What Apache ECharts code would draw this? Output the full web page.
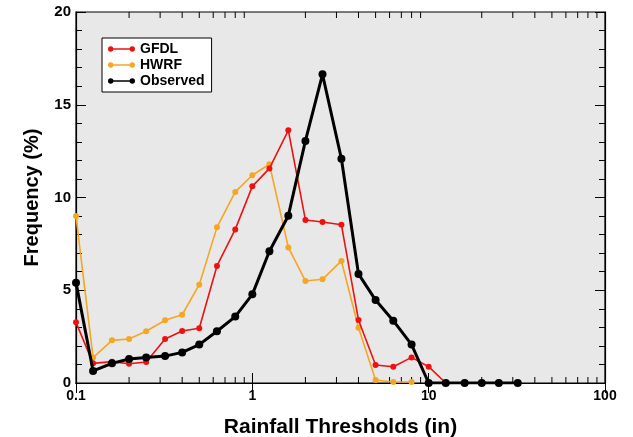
<!DOCTYPE html>
<html>
<head>
<meta charset="utf-8">
<script src="https://cdn.jsdelivr.net/npm/echarts@6/dist/echarts.min.js"></script>
<style>html,body{margin:0;padding:0;background:#fff;}#chart{width:633px;height:437px;}</style>
</head>
<body>
<div id="chart"></div>
<script>
const thresholds = [0.1,0.125,0.16,0.2,0.25,0.32,0.4,0.5,0.63,0.8,1,1.25,1.6,2,2.5,3.2,4,5,6.3,8,10,12.5,16,20,25,32];
const gfdl = [3.27,1.06,1.15,1.04,1.13,2.37,2.80,2.95,6.31,8.28,10.6,11.57,13.62,8.79,8.68,8.53,3.40,0.97,0.88,1.38,0.88,0];
const hwrf = [9.0,1.37,2.30,2.37,2.79,3.38,3.68,5.30,8.39,10.3,11.2,11.79,7.31,5.50,5.59,6.58,2.98,0.16,0.05,0.05];
const observed = [5.41,0.65,1.06,1.29,1.38,1.45,1.65,2.07,2.79,3.58,4.78,7.1,9.02,13.05,16.64,12.09,5.88,4.47,3.36,2.07,0,0,0,0,0,0];
const xTickLabels = ['0.1','1','10','100'];
const xMinorTicks = [0.2,0.3,0.4,0.5,0.6,0.7,0.8,0.9,2,3,4,5,6,7,8,9,20,30,40,50,60,70,80,90];

const pairs = vals => vals.map((v, i) => [thresholds[i], v]);
const font = 'Liberation Sans, Arial, Helvetica, sans-serif';
const icon = 'path://M0,3A3,3 0 1,1 6,3A3,3 0 1,1 0,3ZM3,2.2L27,2.2L27,3.8L3,3.8ZM24,3A3,3 0 1,1 30,3A3,3 0 1,1 24,3Z';

const chart = echarts.init(document.getElementById('chart'), null, {renderer: 'canvas'});
const tickStyle = {color: '#000', width: 1};
chart.setOption({
  animation: false,
  backgroundColor: '#fff',
  grid: {left: 76, right: 28, top: 12, bottom: 54, outerBoundsMode: 'none', containLabel: false,
    show: true, backgroundColor: '#e8e8e8', borderColor: '#000', borderWidth: 1.2},
  legend: {
    orient: 'vertical', left: 102, top: 38,
    backgroundColor: '#fff', borderColor: '#000', borderWidth: 1,
    padding: [4, 7, 4, 6], itemGap: 2, itemWidth: 27, itemHeight: 6,
    textStyle: {fontFamily: font, fontWeight: 'bold', fontSize: 14, color: '#000'},
    data: [{name: 'GFDL', icon: icon}, {name: 'HWRF', icon: icon}, {name: 'Observed', icon: icon}]
  },
  xAxis: [{
    type: 'log', logBase: 10, min: 0.1, max: 100, position: 'bottom',
    name: 'Rainfall Thresholds (in)', nameLocation: 'middle', nameGap: 34,
    nameTextStyle: {fontFamily: font, fontWeight: 'bold', fontSize: 21, color: '#000'},
    axisLine: {show: true, lineStyle: {color: '#000', width: 1.2}},
    axisTick: {show: true, inside: true, length: 10, lineStyle: tickStyle},
    axisLabel: {fontFamily: font, fontWeight: 'bold', fontSize: 14, color: '#000', margin: 6,
      formatter: v => { const s = String(Math.round(v*10)/10); return xTickLabels.includes(s) ? s : ''; }},
    splitLine: {show: false}
  }, {
    type: 'log', logBase: 10, min: 0.1, max: 100, position: 'top',
    axisLine: {show: true, lineStyle: {color: '#000', width: 1.2}},
    axisTick: {show: true, inside: true, length: 10, lineStyle: tickStyle},
    axisLabel: {show: false}, splitLine: {show: false}
  }],
  yAxis: [{
    type: 'value', min: 0, max: 20, interval: 5,
    name: 'Frequency (%)', nameLocation: 'middle', nameGap: 34,
    nameTextStyle: {fontFamily: font, fontWeight: 'bold', fontSize: 20, color: '#000'},
    axisLine: {show: true, lineStyle: {color: '#000', width: 1.2}},
    axisTick: {show: true, inside: true, length: 10, lineStyle: tickStyle},
    minorTick: {show: true, splitNumber: 5, length: 6, lineStyle: tickStyle},
    axisLabel: {fontFamily: font, fontWeight: 'bold', fontSize: 15, color: '#000', margin: 5},
    splitLine: {show: false}
  }, {
    type: 'value', min: 0, max: 20, interval: 5, position: 'right',
    axisLine: {show: true, lineStyle: {color: '#000', width: 1.2}},
    axisTick: {show: true, inside: true, length: 10, lineStyle: tickStyle},
    minorTick: {show: true, splitNumber: 5, length: 6, lineStyle: tickStyle},
    axisLabel: {show: false}, splitLine: {show: false}
  }],
  series: [
    {
      type: 'custom', silent: true, xAxisIndex: 0, yAxisIndex: 0, clip: false, z: 1,
      data: xMinorTicks.map(v => [v]),
      renderItem: (params, api) => {
        const b = api.coord([api.value(0), 0]);
        const t = api.coord([api.value(0), 20]);
        const st = {stroke: '#000', lineWidth: 1};
        return {type: 'group', children: [
          {type: 'line', shape: {x1: b[0], y1: b[1], x2: b[0], y2: b[1] - 6}, style: st},
          {type: 'line', shape: {x1: t[0], y1: t[1], x2: t[0], y2: t[1] + 6}, style: st}
        ]};
      }
    },
    {name: 'GFDL', type: 'line', data: pairs(gfdl), color: '#ee1111', symbol: 'circle', symbolSize: 6,
      lineStyle: {width: 1.6}, z: 3},
    {name: 'HWRF', type: 'line', data: pairs(hwrf), color: '#f5a623', symbol: 'circle', symbolSize: 6,
      lineStyle: {width: 1.6}, z: 2},
    {name: 'Observed', type: 'line', data: pairs(observed), color: '#000', symbol: 'circle', symbolSize: 8,
      lineStyle: {width: 3}, z: 4}
  ]
});
</script>
</body>
</html>
